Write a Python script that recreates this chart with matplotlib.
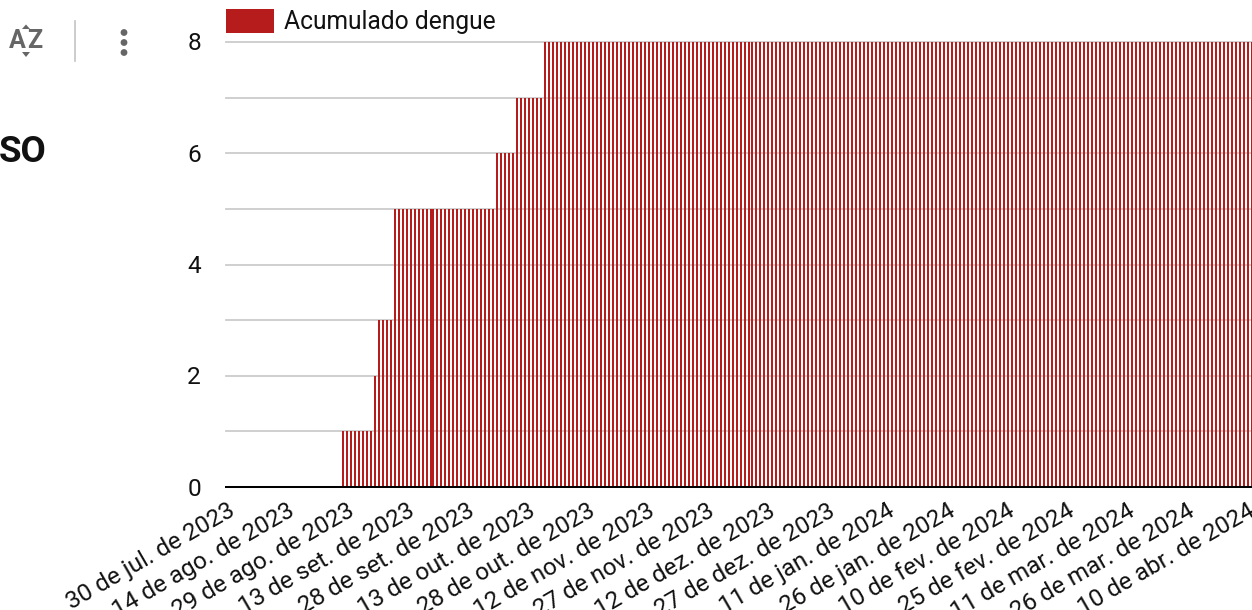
import numpy as np
import matplotlib
matplotlib.use("Agg")
import matplotlib.pyplot as plt
import matplotlib.dates as mdates
from matplotlib.patches import Circle, Polygon
from matplotlib.transforms import ScaledTranslation

plt.rcParams['font.family'] = ['Roboto', 'DejaVu Sans']

# ---- data ----
series_name = "Acumulado dengue"
first_day = "2023-07-30"
cumulative_levels = [0, 1, 2, 3, 5, 6, 7, 8]
days_at_level = [29, 8, 1, 4, 26, 5, 7, 178]
time_shift_from_day = [52, 132]       # day index where the sampling time shifts
time_shift_hours = [-12, -18]         # shift applied from that day on
tick_dates = ["2023-07-30", "2023-08-14", "2023-08-29", "2023-09-13", "2023-09-28",
              "2023-10-13", "2023-10-28", "2023-11-12", "2023-11-27", "2023-12-12",
              "2023-12-27", "2024-01-11", "2024-01-26", "2024-02-10", "2024-02-25",
              "2024-03-11", "2024-03-26", "2024-04-10"]
tick_labels = ["30 de jul. de 2023", "14 de ago. de 2023", "29 de ago. de 2023",
               "13 de set. de 2023", "28 de set. de 2023", "13 de out. de 2023",
               "28 de out. de 2023", "12 de nov. de 2023", "27 de nov. de 2023",
               "12 de dez. de 2023", "27 de dez. de 2023", "11 de jan. de 2024",
               "26 de jan. de 2024", "10 de fev. de 2024", "25 de fev. de 2024",
               "11 de mar. de 2024", "26 de mar. de 2024", "10 de abr. de 2024"]
y_ticks = [0, 1, 2, 3, 4, 5, 6, 7, 8]
y_labels = ["0", "", "2", "", "4", "", "6", "", "8"]

# ---- derived ----
W, H = 1252, 610
RED = "#b71c1c"
values = np.repeat(cumulative_levels, days_at_level)
start = mdates.date2num(np.datetime64(first_day))
day_index = np.arange(len(values))
hours = np.zeros(len(values))
for d, h in zip(time_shift_from_day, time_shift_hours):
    hours[day_index >= d] = h
bar_x = start + day_index + hours / 24.0

fig = plt.figure(figsize=(W / 100, H / 100), dpi=100, facecolor="white")
L, R, B, T = 226, 1252, H - 487, H - 42
ax = fig.add_axes([L / W, B / H, (R - L) / W, (T - B) / H])

ax.bar(bar_x, values, width=0.5, align="edge", color=RED, linewidth=0,
       label=series_name, zorder=3)
ax.set_xlim(start, start + 256.5)
ax.set_ylim(0, 8)

for s in ["top", "left", "right"]:
    ax.spines[s].set_visible(False)
ax.spines["bottom"].set_color("black")
ax.spines["bottom"].set_linewidth(1.45)
ax.spines["bottom"].set_zorder(5)

ax.set_yticks(y_ticks)
ax.set_yticklabels(y_labels, fontsize=17.6, color="#111111")
ax.tick_params(axis="y", length=0, pad=18)
ax.grid(axis="y", color="#cccccc", linewidth=1.3, zorder=1)
for line in ax.get_ygridlines():
    line.set_clip_on(False)
ax.set_axisbelow(True)
y_offset = ScaledTranslation(0, 0.5 / 100, fig.dpi_scale_trans)
for lab in ax.get_yticklabels():
    lab.set_transform(lab.get_transform() + y_offset)

ax.set_xticks([mdates.date2num(np.datetime64(d)) for d in tick_dates])
ax.set_xticklabels(tick_labels, fontsize=17.5, color="#111111", rotation=30,
                   ha="right", va="center", rotation_mode="anchor")
ax.tick_params(axis="x", length=0, pad=0)
offset = ScaledTranslation(7 / 100, -22 / 100, fig.dpi_scale_trans)
for lab in ax.get_xticklabels():
    lab.set_transform(lab.get_transform() + offset)

ax.legend(loc="lower left", bbox_to_anchor=(L / W, (H - 34.5) / H),
          bbox_transform=fig.transFigure, frameon=False, fontsize=17.75,
          handlelength=1.95, handleheight=1.13, handletextpad=0.41,
          borderpad=0, borderaxespad=0, labelcolor="#111111")

# ---- interface chrome to the left of the chart, in pixel coordinates ----
ov = fig.add_axes([0, 0, 1, 1], facecolor="none", zorder=-1)
ov.set_xlim(0, W)
ov.set_ylim(H, 0)
ov.axis("off")
GREY = "#666666"
ov.text(17.5, 41, "A", fontsize=18, fontweight="bold", color=GREY, ha="center", va="center")
ov.text(34.5, 41, "Z", fontsize=18, fontweight="bold", color=GREY, ha="center", va="center")
ov.add_patch(Polygon([[22, 29], [26, 24.5], [30, 29]], color=GREY, lw=0))
ov.add_patch(Polygon([[22, 52], [26, 57], [30, 52]], color=GREY, lw=0))
ov.plot([75, 75], [21, 61], color="#c4c4c4", lw=1.2)
for cy in (32.5, 42.5, 52.5):
    ov.add_patch(Circle((124, cy), 3.4, color=GREY, lw=0))
ov.text(-1, 161.5, "SO", fontsize=26.5, fontweight="bold", color="#111111",
        ha="left", va="baseline")

fig.savefig("out.png", dpi=100)
